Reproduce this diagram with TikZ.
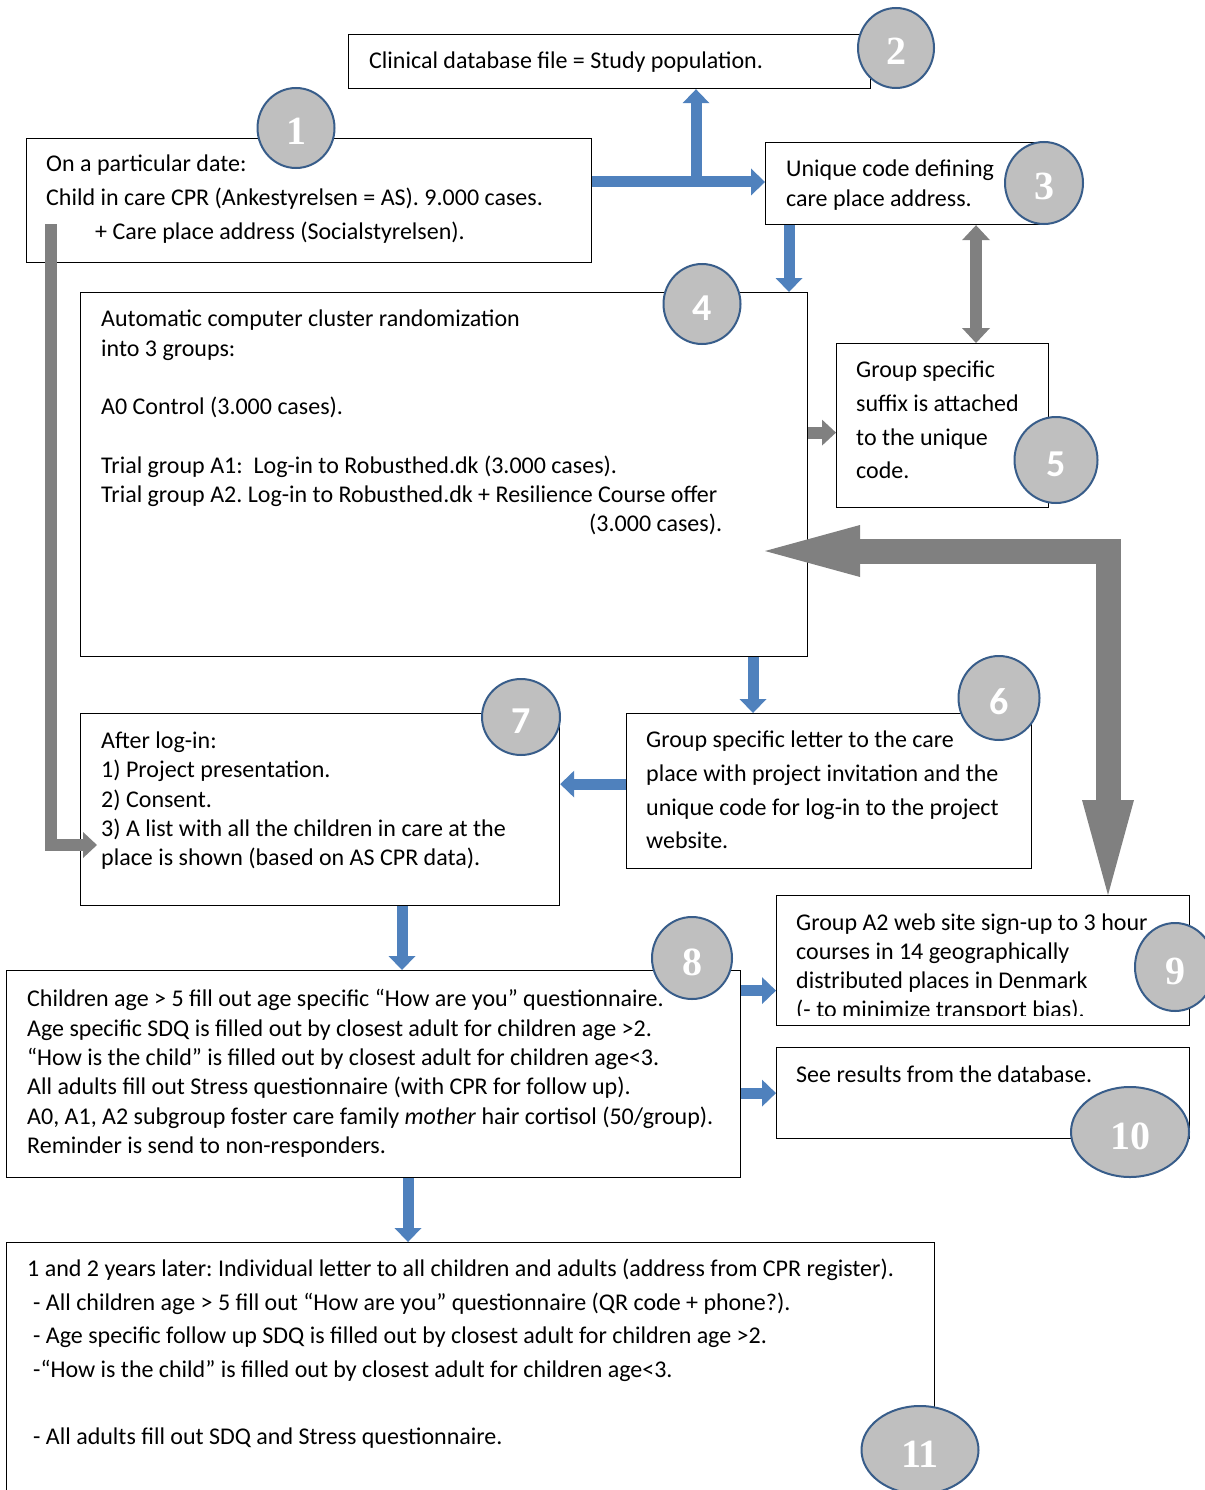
\documentclass[tikz,border=0pt]{standalone}
\usepackage{fontspec}
\setmainfont{Carlito}
\newfontfamily\numfont{Liberation Serif}
\usetikzlibrary{arrows.meta, shapes.geometric}
\frenchspacing
\definecolor{arrblue}{RGB}{79,129,189}
\definecolor{arrgray}{RGB}{128,128,128}
\definecolor{numfill}{RGB}{191,191,191}
\definecolor{numline}{RGB}{56,93,138}
\tikzset{
  box/.style={draw, line width=1.2pt, anchor=north west, inner sep=0, fill=white},
  txt/.style={anchor=north west, inner sep=0, align=left, font=\fontsize{24}{#1}\selectfont},
  txt/.default=29.3,
  num/.style={ellipse, draw=numline, line width=2pt, fill=numfill, text=white, inner sep=0,
    text height=34pt, text depth=0pt, font=\numfont\bfseries\fontsize{40}{40}\selectfont},
  numsans/.style={num, text height=32pt, font=\bfseries\fontsize{38}{38}\selectfont},
  barrow/.style={arrblue, line width=11pt, -{Triangle[width=27pt,length=14pt,line width=0pt]}},
  garrow/.style={arrgray, line width=12pt, -{Triangle[width=26pt,length=14pt,line width=0pt]}},
  gdarrow/.style={arrgray, line width=12pt,
    {Triangle[width=28pt,length=15pt,line width=0pt]}-{Triangle[width=28pt,length=15pt,line width=0pt]}},
  bigarrow/.style={arrgray, line width=25pt, line join=miter,
    {Triangle[width=52pt,length=95pt,line width=0pt]}-{Triangle[width=52pt,length=95pt,line width=0pt]}}
}
\begin{document}
\begin{tikzpicture}[x=1pt, y=-1pt]
\useasboundingbox (0,0) rectangle (1204,1490);

% boxes
\node[box, minimum width=522, minimum height=54] (b2) at (348,34) {};
\node[box, minimum width=565, minimum height=124] (b1) at (26,138) {};
\node[box, minimum width=280, minimum height=82] (b3) at (765,142) {};
\node[box, minimum width=727, minimum height=364] (b4) at (80,292) {};
\node[box, minimum width=212, minimum height=164] (b5) at (836,343) {};
\node[box, minimum width=405, minimum height=155] (b6) at (626,713) {};
\node[box, minimum width=479, minimum height=192] (b7) at (80,713) {};
\node[box, minimum width=413, minimum height=130] (b9) at (776,895) {};
\node[box, minimum width=413, minimum height=91] (b10) at (776,1047) {};
\node[box, minimum width=734, minimum height=207] (b8) at (6,970) {};
\node[box, minimum width=928, minimum height=260] (b11) at (6,1242) {};

% texts
\node[txt=34] (t1) at ([shift={(20,9)}]b1.north west) {\strut On a particular date:\\
  Child in care CPR (Ankestyrelsen = AS). 9.000 cases.\\
  \hspace*{49pt}+ Care place address (Socialstyrelsen).};
\node[txt] (t2) at ([shift={(21,14)}]b2.north west) {\strut Clinical database file = Study population.};
\node[txt=30] (t3) at ([shift={(21,13)}]b3.north west) {\strut Unique code defining\\ care place address.};
\node[txt=29.3] (t4) at ([shift={(21,14)}]b4.north west) {\strut Automatic computer cluster randomization\\
  into 3 groups:\\[29.3pt]
  A0 Control (3.000 cases).\\[29.3pt]
  Trial group A1:\ \ Log-in to Robusthed.dk (3.000 cases).\\
  Trial group A2. Log-in to Robusthed.dk + Resilience Course offer\\
  \hspace*{488pt}(3.000 cases).};
\node[txt=33.7] (t5) at ([shift={(20,11)}]b5.north west) {\strut Group specific\\ suffix is attached\\ to the unique\\ code.};
\node[txt=33.7] (t6) at ([shift={(20,11)}]b6.north west) {\strut Group specific letter to the care\\
  place with project invitation and the\\ unique code for log-in to the project\\ website.};
\node[txt=29.25] (t7) at ([shift={(21,15)}]b7.north west) {\strut After log-in:\\ 1) Project presentation.\\ 2) Consent.\\
  3) A list with all the children in care at the\\ place is shown (based on AS CPR data).};
\node[txt=29.4] (t8) at ([shift={(21,16)}]b8.north west) {\strut Children age > 5 fill out age specific “How are you” questionnaire.\\
  Age specific SDQ is filled out by closest adult for children age >2.\\
  “How is the child” is filled out by closest adult for children age<3.\\
  All adults fill out Stress questionnaire (with CPR for follow up).\\
  A0, A1, A2 subgroup foster care family \emph{mother} hair cortisol (50/group).\\
  Reminder is send to non-responders.};
\begin{scope}
  \clip (b9.north west) rectangle ([shift={(0,-11)}]b9.south east);
  \node[txt=29] (t9) at ([shift={(20,15)}]b9.north west) {\strut Group A2 web site sign-up to 3 hour\\
    courses in 14 geographically\\ distributed places in Denmark\\ (- to minimize transport bias).};
\end{scope}
\node[txt] (t10) at ([shift={(20,15)}]b10.north west) {\strut See results from the database.};
\node[txt=33.5] (t11) at ([shift={(21,11)}]b11.north west) {\strut 1 and 2 years later: Individual letter to all children and adults (address from CPR register).\\
  \hspace*{6pt}- All children age > 5 fill out “How are you” questionnaire (QR code + phone?).\\
  \hspace*{6pt}- Age specific follow up SDQ is filled out by closest adult for children age >2.\\
  \hspace*{6pt}-“How is the child” is filled out by closest adult for children age<3.\\[33.5pt]
  \hspace*{6pt}- All adults fill out SDQ and Stress questionnaire.};

% connectors
\coordinate (j1) at (696,182);
\coordinate (s1) at (51,224);
\coordinate (e7) at (97,845);
\coordinate (c4) at (765,551);
\draw[barrow] (b1.east |- j1) -- (b3.west |- j1);
\draw[barrow] (j1) -- (j1 |- b2.south);
\draw[barrow] ([xshift=24]b3.south west) -- ([xshift=24]b3.south west |- b4.north);
\draw[gdarrow] ([xshift=140]b5.north west) -- ([xshift=140]b5.north west |- b3.south);
\draw[garrow] ([yshift=-7]b5.west -| b4.east) -- ([yshift=-7]b5.west);
\draw[bigarrow] (c4) -| ([xshift=332]b9.north west);
\draw[barrow] ([xshift=127]b6.north west |- b4.south) -- ([xshift=127]b6.north west);
\draw[barrow] ([yshift=7]b6.west) -- ([yshift=7]b6.west -| b7.east);
\draw[garrow] (s1) |- (e7);
\draw[barrow] ([xshift=322]b7.south west) -- ([xshift=322]b7.south west |- b8.north);
\draw[barrow] ([yshift=-30]b9.west -| b8.east) -- ([yshift=-30]b9.west);
\draw[barrow] (b10.west -| b8.east) -- (b10.west);
\draw[barrow] ([xshift=402]b8.south west) -- ([xshift=402]b8.south west |- b11.north);

% numbers
\node[num, minimum width=77, minimum height=80] (n1) at (296,128) {1};
\node[num, minimum width=76, minimum height=80] (n2) at (896,48) {2};
\node[num, minimum width=78, minimum height=82] (n3) at (1044,183) {3};
\node[numsans, minimum width=77, minimum height=80] (n4) at (702,304) {4};
\node[numsans, minimum width=83, minimum height=86] (n5) at (1056,460) {5};
\node[numsans, minimum width=81, minimum height=84] (n6) at (999,698) {6};
\node[numsans, minimum width=78, minimum height=76] (n7) at (521,717) {7};
\node[num, minimum width=80, minimum height=82] (n8) at (692,958) {8};
\node[num, minimum width=80, minimum height=88] (n9) at (1175,967) {9};
\node[num, minimum width=118, minimum height=90] (n10) at (1130,1132) {10};
\node[num, minimum width=117, minimum height=88] (n11) at (920,1450) {11};
\end{tikzpicture}
\end{document}
